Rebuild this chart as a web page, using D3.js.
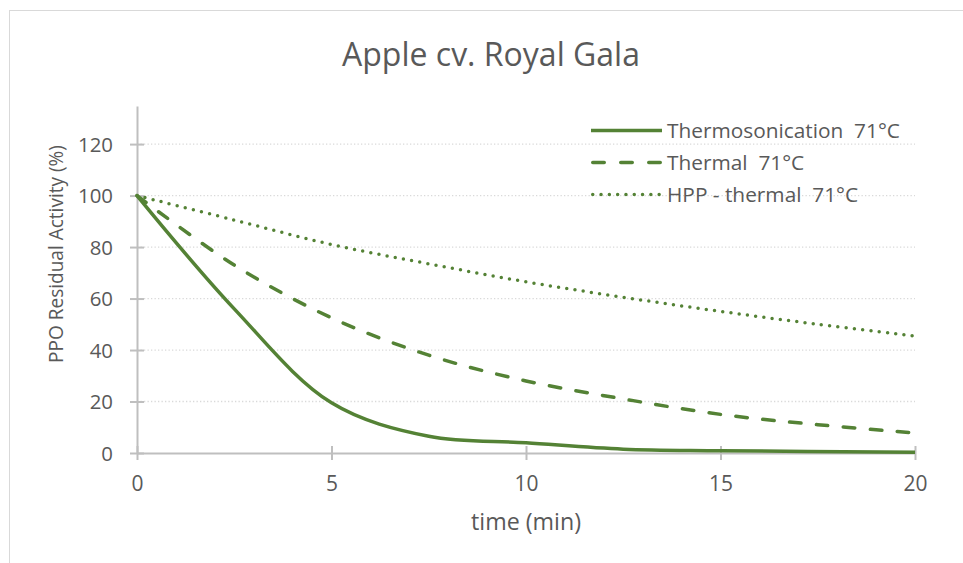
<!DOCTYPE html>
<html>
<head>
<meta charset="utf-8">
<script src="https://cdn.jsdelivr.net/npm/d3@7"></script>
<style>
  html, body { margin: 0; padding: 0; background: #fff; }
  svg { display: block; }
  text { font-family: "Open Sans", Lato, sans-serif; fill: #595959; white-space: pre; }
</style>
</head>
<body>
<svg id="chart" width="963" height="563"></svg>
<script>
// ---- data ----
const title = "Apple cv. Royal Gala";
const xLabel = "time (min)";
const yLabel = "PPO Residual Activity (%)";
const xTicks = [0, 5, 10, 15, 20];
const yTicks = [0, 20, 40, 60, 80, 100, 120];
const seriesNames = ["Thermosonication  71°C", "Thermal  71°C", "HPP - thermal  71°C"];

const thermosonicationT = [0, 2.5, 5, 7.5, 10, 12.5, 15, 20];
const thermosonicationV = [100, 56, 19.5, 6.5, 4, 1.5, 0.9, 0.3];

const thermalT = [0, 2.5, 5, 7.5, 10, 12.5, 15, 17.5, 20];
const thermalV = [100, 73, 52.5, 38, 28, 21, 15, 11, 7.8];

const hppT = [0, 2.5, 5, 7.5, 10, 12.5, 15, 17.5, 20];
const hppV = [100, 90.5, 81, 73.5, 66.5, 60.5, 55, 50, 45.4];

// ---- layout ----
const svg = d3.select("#chart");
const plot = { left: 137, right: 915, top: 106, bottom: 453 };
const green = "#548235";
const axisColor = "#bfbfbf";

// fit a text element's font size so its width matches a target width
function fitWidth(sel, target, start) {
  sel.style("font-size", start + "px");
  const L = sel.node().getComputedTextLength();
  const s = L > 0 ? start * target / L : start;
  sel.style("font-size", s.toFixed(2) + "px");
  return s;
}

// outer chart border
svg.append("rect")
  .attr("x", 9.5).attr("y", 10.5)
  .attr("width", 1000).attr("height", 600)
  .attr("fill", "#fff").attr("stroke", "#d9d9d9").attr("stroke-width", 1);

const x = d3.scaleLinear().domain([0, 20]).range([plot.left, plot.right]);
const y = d3.scaleLinear().domain([0, 134.8]).range([plot.bottom, plot.top]);

// gridlines
svg.append("g").selectAll("line")
  .data(yTicks.filter(d => d > 0))
  .join("line")
  .attr("x1", plot.left).attr("x2", plot.right)
  .attr("y1", d => y(d)).attr("y2", d => y(d))
  .attr("stroke", "#d9d9d9").attr("stroke-width", 1.3)
  .attr("stroke-dasharray", "1.3,2.2");

// y axis
const yAxis = svg.append("g").attr("transform", `translate(${plot.left},0)`)
  .call(d3.axisLeft(y).tickValues(yTicks).tickSize(0).tickPadding(24));
yAxis.select(".domain").attr("stroke", axisColor).attr("stroke-width", 2);
yAxis.selectAll(".tick text").attr("fill", "#595959").attr("dy", "0.35em");
{
  const ref = yAxis.selectAll(".tick text").filter(d => d === 120);
  const s = fitWidth(ref, 35, 20);
  yAxis.selectAll(".tick text").style("font-size", s.toFixed(2) + "px");
}
yAxis.selectAll(".tick").append("line")
  .attr("x1", -7).attr("x2", 7).attr("stroke", axisColor).attr("stroke-width", 2);

// x axis
const xAxis = svg.append("g").attr("transform", `translate(0,${plot.bottom})`)
  .call(d3.axisBottom(x).tickValues(xTicks).tickSize(0));
xAxis.select(".domain").attr("stroke", axisColor).attr("stroke-width", 2);
xAxis.selectAll(".tick text").attr("fill", "#595959").attr("y", 38).attr("dy", 0);
{
  const ref = xAxis.selectAll(".tick text").filter(d => d === 10);
  const s = fitWidth(ref, 24, 20);
  xAxis.selectAll(".tick text").style("font-size", s.toFixed(2) + "px");
}
xAxis.selectAll(".tick").append("line")
  .attr("y1", -7).attr("y2", 7).attr("stroke", axisColor).attr("stroke-width", 2);

// lines
const series = [
  { t: thermosonicationT, v: thermosonicationV, dash: null, cap: "butt", legendDash: null },
  { t: thermalT, v: thermalV, dash: "11.5,15.5", cap: "round", legendDash: "11.5,16.5" },
  { t: hppT, v: hppV, dash: "0,8.3", cap: "round", legendDash: "0,8.3" }
];
const line = d3.line().x(d => x(d[0])).y(d => y(d[1])).curve(d3.curveCatmullRom.alpha(0.5));
series.forEach(s => {
  svg.append("path")
    .datum(s.t.map((t, i) => [t, s.v[i]]))
    .attr("d", line)
    .attr("fill", "none")
    .attr("stroke", green)
    .attr("stroke-width", 3.5)
    .attr("stroke-linecap", s.cap)
    .attr("stroke-dasharray", s.dash);
});

// legend
const legendY = [130.5, 162.5, 194.5];
const legendTexts = [];
seriesNames.forEach((name, i) => {
  const s = series[i];
  const x1 = i === 0 ? 591 : 592.75, x2 = i === 0 ? 662 : 660.5;
  svg.append("line")
    .attr("x1", x1).attr("x2", x2)
    .attr("y1", legendY[i]).attr("y2", legendY[i])
    .attr("stroke", green).attr("stroke-width", 3.5)
    .attr("stroke-linecap", s.cap)
    .attr("stroke-dasharray", s.legendDash);
  legendTexts.push(svg.append("text")
    .attr("x", 667).attr("y", legendY[i])
    .attr("dy", "0.35em")
    .text(name));
});
{
  const s = fitWidth(legendTexts[0], 233, 18);
  legendTexts.forEach(t => t.style("font-size", s.toFixed(2) + "px"));
}

// title
const titleText = svg.append("text")
  .attr("x", 491).attr("y", 66)
  .attr("text-anchor", "middle")
  .text(title);
fitWidth(titleText, 298, 28);

// axis titles
const xTitle = svg.append("text")
  .attr("x", 526).attr("y", 530)
  .attr("text-anchor", "middle")
  .text(xLabel);
fitWidth(xTitle, 110, 18);

const yTitle = svg.append("text")
  .attr("transform", "translate(63,254) rotate(-90)")
  .attr("text-anchor", "middle")
  .text(yLabel);
fitWidth(yTitle, 218, 18);
</script>
</body>
</html>
